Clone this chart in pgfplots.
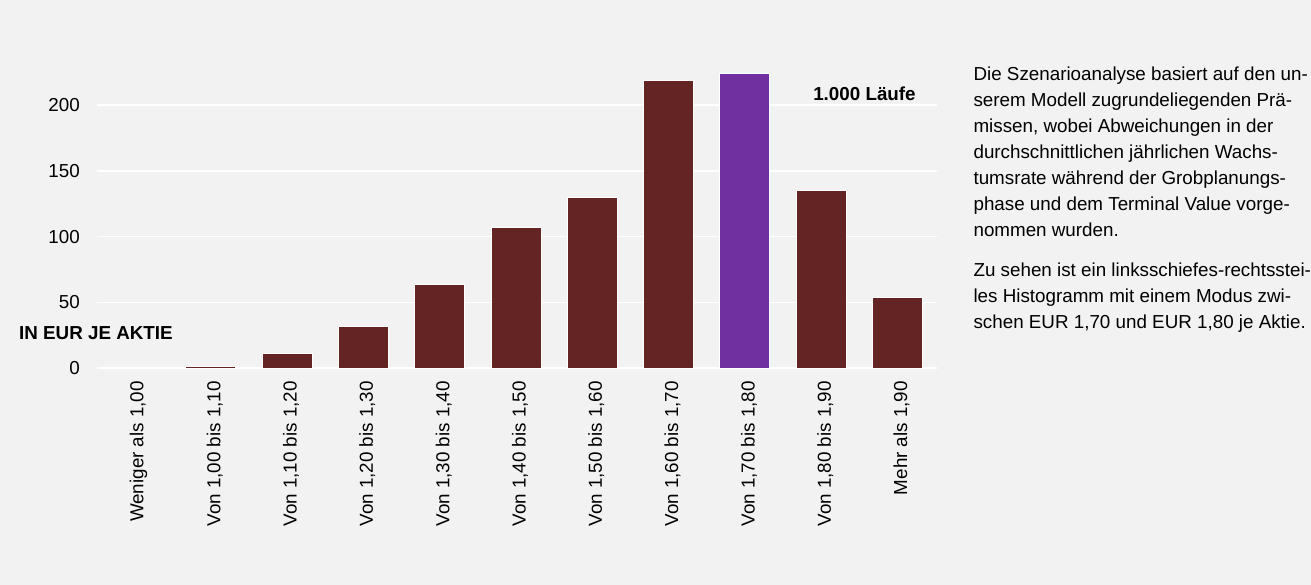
\documentclass[border=0pt]{standalone}
\usepackage{pgfplots}
\pgfplotsset{compat=1.18}
\usepackage{fontspec}
\setmainfont{Liberation Sans}

\definecolor{bg}{HTML}{F2F2F2}
\definecolor{barred}{HTML}{632423}
\definecolor{barpurple}{HTML}{7030A0}

\begin{document}
\fontsize{18.8bp}{26bp}\selectfont
\begin{tikzpicture}
\fill[bg] (0,0) rectangle (1311bp,585bp);
\begin{axis}[
    at={(97bp,216.7bp)}, anchor=south west,
    width=840bp, height=302.7bp, scale only axis,
    xmin=-0.491, xmax=10.515,
    ymin=0, ymax=230,
    enlargelimits=false,
    axis line style={draw=none},
    major tick length=0pt,
    xtick={0,1,2,3,4,5,6,7,8,9,10},
    xticklabels={Weniger als 1{,}00, Von 1{,}00 bis 1{,}10, Von 1{,}10 bis 1{,}20,
        Von 1{,}20 bis 1{,}30, Von 1{,}30 bis 1{,}40, Von 1{,}40 bis 1{,}50,
        Von 1{,}50 bis 1{,}60, Von 1{,}60 bis 1{,}70, Von 1{,}70 bis 1{,}80,
        Von 1{,}80 bis 1{,}90, Mehr als 1{,}90},
    ytick={0,50,100,150,200},
    ymajorgrids=true,
    grid style={white, line width=1.5bp},
    /pgf/number format/assume math mode=true,
    tick label style={font=\fontsize{18.8bp}{22bp}\selectfont},
    yticklabel style={inner sep=0pt, xshift=-17bp},
    xticklabel style={xshift=4bp, yshift=-12.7bp, rotate=90, anchor=east, inner sep=0pt},
    clip=false,
]
% Laeufe je Klasse
\addplot[ybar, bar width=50bp, fill=barred, draw=white, line width=1bp]
    coordinates {(0,0)(1,1)(2,11)(3,32)(4,64)(5,107)(6,130)(7,219)(9,135)(10,54)};
% Modus
\addplot[ybar, bar width=50bp, fill=barpurple, draw=white, line width=1bp]
    coordinates {(8,224)};
\end{axis}

\node[anchor=base east, inner sep=0pt, font=\bfseries] at (916bp,484bp) {1.000 Läufe};
\node[anchor=base west, inner sep=0pt, font=\bfseries] at (19bp,245bp) {IN EUR JE AKTIE};

\begin{scope}[every node/.style={anchor=base west, inner sep=0pt}]
\node at (973.5bp,504bp) {Die Szenarioanalyse basiert auf den un-};
\node at (973.5bp,478bp) {serem Modell zugrundeliegenden Prä-};
\node at (973.5bp,452bp) {missen, wobei Abweichungen in der};
\node at (973.5bp,426bp) {durchschnittlichen jährlichen Wachs-};
\node at (973.5bp,400bp) {tumsrate während der Grobplanungs-};
\node at (973.5bp,374bp) {phase und dem Terminal Value vorge-};
\node at (973.5bp,348bp) {nommen wurden.};
\node at (973.5bp,308.5bp) {Zu sehen ist ein linksschiefes-rechtsstei-};
\node at (973.5bp,282.5bp) {les Histogramm mit einem Modus zwi-};
\node at (973.5bp,256.5bp) {schen EUR 1,70 und EUR 1,80 je Aktie.};
\end{scope}
\end{tikzpicture}
\end{document}
